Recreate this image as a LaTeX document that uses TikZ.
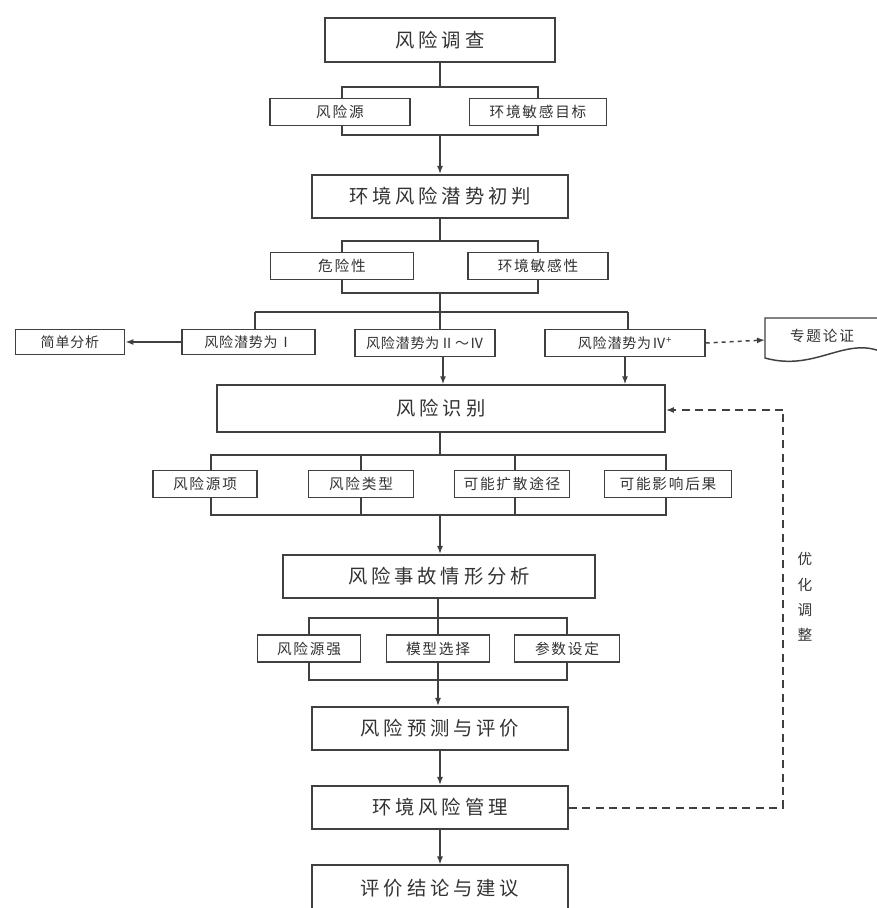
\documentclass[tikz,border=0pt]{standalone}
\usepackage{fontspec}
\newfontfamily\cjk{Noto Sans CJK SC}
\newfontfamily\cjkbig[LetterSpace=20]{Noto Sans CJK SC}
\newfontfamily\cjksmall[LetterSpace=12]{Noto Sans CJK SC}
\newfontfamily\cjktight[LetterSpace=6]{Noto Sans CJK SC}
\usetikzlibrary{arrows.meta,calc}
\definecolor{lc}{HTML}{404040}
\definecolor{tc}{HTML}{333333}
\begin{document}
\begin{tikzpicture}[x=0.75pt,y=-0.75pt,
  bigbox/.style={draw=lc,line width=1.3pt,fill=white,inner sep=0pt,
    minimum height=32.5pt,text=tc,font=\cjkbig\fontsize{14.5}{16}\selectfont},
  smallbox/.style={draw=lc,line width=1.1pt,fill=white,inner sep=0pt,
    minimum height=20.5pt,text=tc,font=\cjksmall\fontsize{11}{13}\selectfont},
  potbox/.style={smallbox,font=\cjktight\fontsize{10.5}{12}\selectfont},
  bracket/.style={draw=lc,line width=1.1pt},
  conn/.style={draw=lc,line width=1.1pt},
  arr/.style={conn,-{Latex[length=6pt,width=4.5pt]}},
  fb/.style={draw=lc,line width=1.5pt,dash pattern=on 6pt off 4pt},
  lbl/.style={text=tc,font=\cjk\fontsize{11}{19}\selectfont,align=center,inner sep=0pt}]
\useasboundingbox (0,0) rectangle (877,908);

% ---------- brackets (drawn first, behind boxes)
\coordinate (b1tl) at (342,87);  \coordinate (b1br) at (538,135);
\draw[bracket] (b1tl) rectangle (b1br);
\coordinate (b2tl) at (342,241); \coordinate (b2br) at (538,293);
\draw[bracket] (b2tl) rectangle (b2br);
\coordinate (b3tl) at (211,455); \coordinate (b3br) at (666,515);
\draw[bracket] (b3tl) rectangle (b3br);
\draw[bracket] (361,455) -- (361,515);
\draw[bracket] (515,455) -- (515,515);
\coordinate (b4tl) at (309,618); \coordinate (b4br) at (567,680);
\draw[bracket] (b4tl) rectangle (b4br);
\draw[bracket] (438,618) -- (438,680);

% ---------- main boxes
\node[bigbox,minimum width=172.5pt] (dc) at (440,40) {风险调查};
\node[bigbox,minimum width=192pt] (cp) at (440,196.5) {环境风险潜势初判};
\node[bigbox,minimum width=336pt,minimum height=35pt] (sb) at (441,408.5) {风险识别};
\node[bigbox,minimum width=234pt] (qx) at (439,576.5) {风险事故情形分析};
\node[bigbox,minimum width=192pt] (yc) at (440,728.5) {风险预测与评价};
\node[bigbox,minimum width=192pt] (gl) at (440,807.5) {环境风险管理};
\node[bigbox,minimum width=192pt,minimum height=34pt] (jl) at (440,888) {评价结论与建议};

% ---------- row 1
\node[smallbox,minimum width=105pt] (fyy) at (340,112) {风险源};
\node[smallbox,minimum width=103pt] (mg) at (538,112) {环境敏感目标};
% ---------- row 2
\node[smallbox,minimum width=107pt] (wx) at (342,266) {危险性};
\node[smallbox,minimum width=105pt] (mgx) at (538,266) {环境敏感性};
% ---------- potential row
\node[potbox,minimum width=82pt,minimum height=19pt] (jd) at (70,342) {简单分析};
\node[potbox,minimum width=100pt,minimum height=19pt] (p1) at (248.5,342) {风险潜势为Ⅰ};
\node[potbox,minimum width=105pt,minimum height=20pt] (p2) at (425,343) {风险潜势为Ⅱ～Ⅳ};
\node[potbox,minimum width=120pt,minimum height=20pt] (p3) at (625,343) {风险潜势为Ⅳ\textsuperscript{+}};
% document shape
\draw[draw=lc,line width=1.1pt,fill=white]
  (765,318) -- (882,318) -- (882,352)
  .. controls (845,336) and (815,372) .. (765,358) -- cycle;
\node[lbl,font=\cjksmall\fontsize{11}{13}\selectfont] (zt) at (822,336) {专题论证};
\coordinate (ztw) at (765,340);

% ---------- identification row
\node[smallbox,minimum width=78pt] (i1) at (205,484) {风险源项};
\node[smallbox,minimum width=79pt] (i2) at (361,484) {风险类型};
\node[smallbox,minimum width=86pt] (i3) at (512,484) {可能扩散途径};
\node[smallbox,minimum width=95pt] (i4) at (668,484) {可能影响后果};

% ---------- scenario row
\node[smallbox,minimum width=77pt] (s1) at (309,648.5) {风险源强};
\node[smallbox,minimum width=77pt] (s2) at (438,648.5) {模型选择};
\node[smallbox,minimum width=79pt] (s3) at (567,648.5) {参数设定};

% ---------- connectors
\draw[conn] (dc.south) -- (dc.south |- b1tl);
\draw[arr] (440,135) -- (cp.north);
\draw[conn] (cp.south) -- (cp.south |- b2tl);
\coordinate (hl) at (440,312);
\draw[conn] (440,293) -- (hl);
\coordinate (hlL) at (255,312);
\coordinate (hlR) at (628,312);
\draw[conn] (hlL) -- (hlR);
\draw[conn] (hlL) -- (p1.north -| hlL);
\draw[conn] (hl) -- (p2.north -| hl);
\draw[conn] (hlR) -- (p3.north -| hlR);
\draw[arr] (p1.west) -- (jd.east);
\draw[arr,dashed] (p3.east) -- (ztw);
\draw[arr] (p2.south -| 443,0) -- (sb.north -| 443,0);
\draw[arr] (p3.south -| 625,0) -- (sb.north -| 625,0);
\draw[conn] (sb.south -| 440,0) -- (440,455);
\draw[arr] (440,515) -- (qx.north -| 440,0);
\draw[conn] (qx.south -| 438,0) -- (s2.north);
\draw[arr] (438,680) -- (yc.north -| 438,0);
\draw[arr] (yc.south) -- (gl.north);
\draw[arr] (gl.south) -- (jl.north);

% feedback
\coordinate (fbA) at (783,807.5);
\coordinate (fbB) at (783,410);
\draw[fb] (gl.east) -- (fbA) -- (fbB);
\draw[fb,-{Latex[length=6pt,width=4.5pt]}] (fbB) -- (sb.east |- fbB);
\node[lbl] (yh) at (805,597) {优\\化\\调\\整};
\end{tikzpicture}
\end{document}
